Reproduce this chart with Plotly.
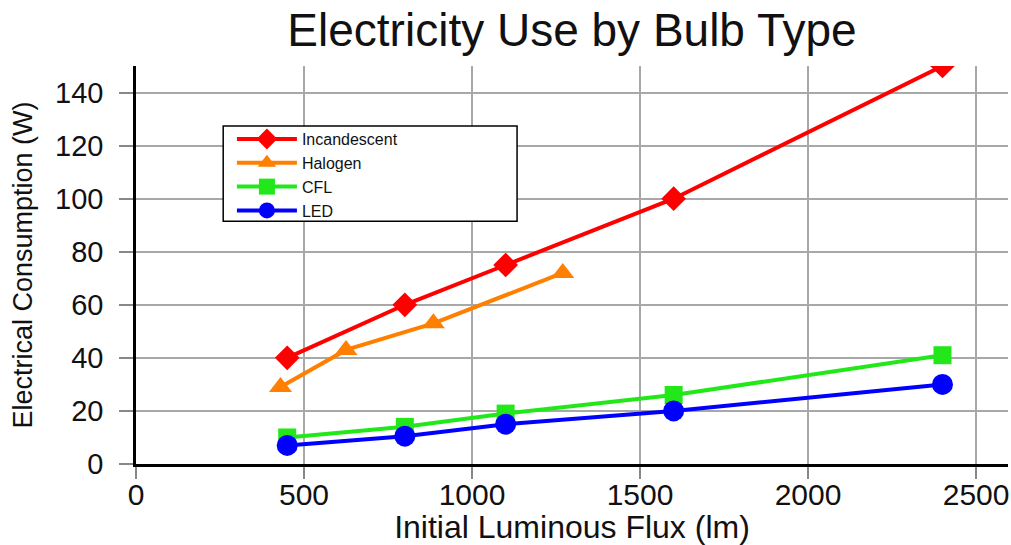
import plotly.graph_objects as go

# Data
inc_x = [450, 800, 1100, 1600, 2400]
inc_y = [40, 60, 75, 100, 150]
hal_x = [430, 625, 885, 1270]
hal_y = [29, 43, 53, 72]
cfl_x = [450, 800, 1100, 1600, 2400]
cfl_y = [10, 14, 19, 26, 41]
led_x = [450, 800, 1100, 1600, 2400]
led_y = [7, 10.5, 15, 20, 30]

x_ticks = [0, 500, 1000, 1500, 2000, 2500]
y_ticks = [0, 20, 40, 60, 80, 100, 120, 140]

FONT = "Liberation Sans, Arial, Helvetica, sans-serif"

fig = go.Figure()
series = [
    ("Incandescent", inc_x, inc_y, "#ff0000", "diamond", 19),
    ("Halogen", hal_x, hal_y, "#ff7f00", "triangle-up", 20),
    ("CFL", cfl_x, cfl_y, "#22e81a", "square", 18),
    ("LED", led_x, led_y, "#0000ff", "circle", 21),
]
for name, xs, ys, col, sym, sz in series:
    fig.add_trace(go.Scatter(
        x=xs, y=ys, name=name, mode="lines+markers",
        line=dict(color=col, width=4),
        marker=dict(color=col, symbol=sym, size=sz, line=dict(width=0)),
    ))

fig.update_layout(
    width=1011, height=545,
    margin=dict(l=136, r=3, t=66, b=81, autoexpand=False),
    paper_bgcolor="white", plot_bgcolor="white",
    font=dict(family=FONT, color="#111"),
    title=dict(text="Electricity Use by Bulb Type", x=0.5, xref="paper",
               y=0.946, yref="container", yanchor="middle", automargin=False,
               font=dict(size=46, family=FONT, color="#111")),
    showlegend=True,
    legend=dict(x=0.11, y=0.859, xanchor="left", yanchor="top",
                bgcolor="rgba(0,0,0,0)", borderwidth=0,
                font=dict(size=16, family=FONT, color="#111"),
                itemwidth=60, tracegroupgap=0),
    shapes=[dict(type="rect", xref="paper", yref="paper",
                 x0=0.1, x1=0.437, y0=0.61, y1=0.849,
                 line=dict(color="black", width=1.5), fillcolor="white",
                 layer="above")],
)
fig.update_xaxes(
    range=[0, 2595], tickvals=x_ticks, ticktext=[str(v) for v in x_ticks],
    showgrid=True, gridcolor="#a8a8a8", gridwidth=1.5,
    showline=True, linecolor="black", linewidth=2.5,
    ticks="outside", ticklen=12, tickcolor="#888", tickwidth=1.5,
    zeroline=False, automargin=False, ticklabelstandoff=-10,
    tickfont=dict(size=30, family=FONT, color="#111"),
    title=dict(text="Initial Luminous Flux (lm)", font=dict(size=32, family=FONT, color="#111")),
)
fig.update_yaxes(
    range=[0, 150], tickvals=y_ticks, ticktext=[str(v) for v in y_ticks],
    showgrid=True, gridcolor="#a8a8a8", gridwidth=1.5,
    showline=True, linecolor="black", linewidth=2.5,
    ticks="outside", ticklen=14, tickcolor="#888", tickwidth=1.5,
    zeroline=False, automargin=False, ticklabelstandoff=10,
    tickfont=dict(size=29, family=FONT, color="#111"),
    title=dict(text="Electrical Consumption (W)", font=dict(size=27, family=FONT, color="#111")),
)

fig.write_html("out.html", config={"displayModeBar": False},
               post_script="document.body.style.margin='0';")
